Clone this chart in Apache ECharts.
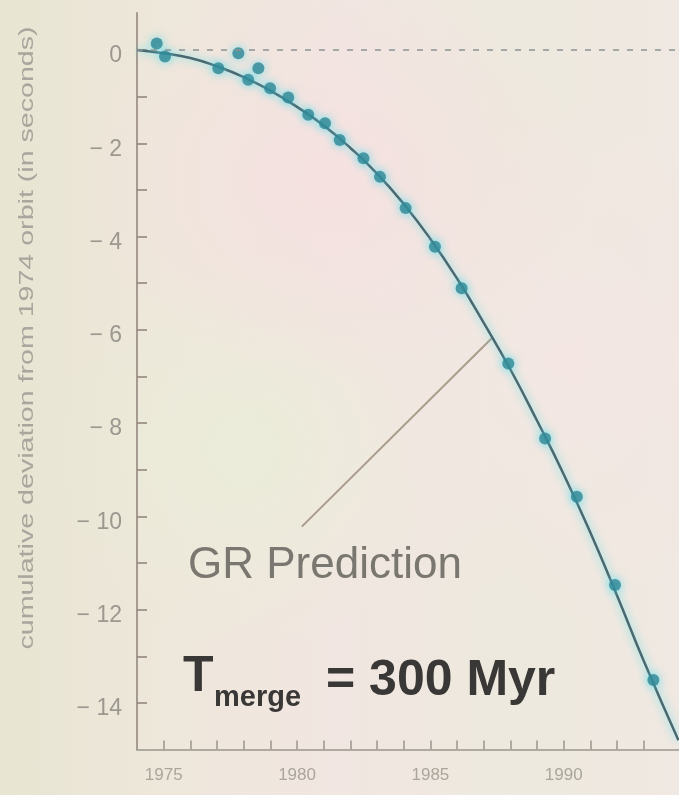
<!DOCTYPE html>
<html>
<head>
<meta charset="utf-8">
<script src="https://cdn.jsdelivr.net/npm/echarts@6/dist/echarts.min.js"></script>
<style>
html,body{margin:0;padding:0;}
body{width:679px;height:795px;overflow:hidden;
background:
 radial-gradient(ellipse 260px 200px at 330px 180px, rgba(246,224,224,0.8), rgba(246,224,224,0) 100%),
 radial-gradient(ellipse 220px 260px at 560px 360px, rgba(245,230,228,0.8), rgba(245,230,228,0) 100%),
 radial-gradient(ellipse 200px 200px at 250px 450px, rgba(234,238,216,0.8), rgba(234,238,216,0) 100%),
 linear-gradient(90deg,#e8e5d2 0%,#eee7db 25%,#f1e6e1 50%,#ede9de 75%,#f0e8e2 100%);}
#chart{width:679px;height:795px;}
</style>
</head>
<body>
<div id="chart"></div>
<script>
// ---- data ----
const obsYears = [1974.74,1975.05,1977.05,1977.80,1978.17,1978.55,1978.99,1979.67,1980.42,1981.05,1981.60,1982.49,1983.11,1984.07,1985.17,1986.17,1987.92,1989.30,1990.49,1991.92,1993.36];
const obsDelay = [0.14,-0.14,-0.39,-0.07,-0.64,-0.39,-0.82,-1.02,-1.39,-1.57,-1.93,-2.32,-2.72,-3.39,-4.22,-5.11,-6.72,-8.33,-9.58,-11.47,-13.51];
const curveYears = [1974,1975,1976,1977,1978,1979,1980,1981,1982,1983,1984,1985,1986,1987,1988,1989,1990,1991,1992,1993,1994.3];
const curveDelay = [0,-0.07,-0.17,-0.35,-0.58,-0.87,-1.22,-1.62,-2.1,-2.65,-3.3,-4.05,-4.9,-5.85,-6.85,-7.95,-9.1,-10.35,-11.7,-13.1,-14.8];
const pointerYears = [1980.18,1987.30];
const pointerDelay = [-10.22,-6.18];
const xTickYears = [1975,1976,1977,1978,1979,1980,1981,1982,1983,1984,1985,1986,1987,1988,1989,1990,1991,1992,1993];
const xLabelYears = [1975,1980,1985,1990];
const yTickValues = [0,-1,-2,-3,-4,-5,-6,-7,-8,-9,-10,-11,-12,-13,-14];
const yLabelValues = [0,-2,-4,-6,-8,-10,-12,-14];
const yTitle = 'cumulative deviation from 1974 orbit (in seconds)';
const grLabel = 'GR Prediction';

const zip = (a,b)=>a.map((v,i)=>[v,b[i]]);
const chart = echarts.init(document.getElementById('chart'), null, {renderer:'canvas'});
const FONT = '"Liberation Sans", Arial, sans-serif';
chart.setOption({
  backgroundColor: 'transparent',
  animation: false,
  grid: {left:137, right:0, top:12.7, bottom:45.4, containLabel:false},
  xAxis: {
    type:'value', min:1974, max:1994.32,
    axisLine:{show:true, onZero:false, lineStyle:{color:'#9a968c', width:1.5}},
    axisTick:{show:true, inside:true, length:9, customValues:xTickYears, lineStyle:{color:'#9a968c', width:1.5}},
    axisLabel:{show:true, customValues:xLabelYears, margin:17, color:'#aaa69c', fontSize:17, fontFamily:FONT,
      formatter:v=>String(v)},
    splitLine:{show:false}
  },
  yAxis: {
    type:'value', min:-15, max:0.8,
    axisLine:{show:true, onZero:false, lineStyle:{color:'#8e8079', width:1.5}},
    axisTick:{show:true, inside:true, length:10, customValues:yTickValues, lineStyle:{color:'#8e8079', width:1.5}},
    axisLabel:{show:true, customValues:yLabelValues, margin:15, color:'#9c978f', fontSize:23, fontFamily:FONT,
      verticalAlign:'top', lineHeight:12,
      formatter:v=>String(v).replace('-','\u2212 ')},
    splitLine:{show:false}
  },
  series: [
    {
      type:'line', data:zip(pointerYears,pointerDelay), symbol:'none', silent:true,
      lineStyle:{color:'#a99c8c', width:2}, z:1
    },
    {
      type:'line', data:zip(curveYears,curveDelay), smooth:true, symbol:'none',
      lineStyle:{color:'#4a6870', width:2.5, shadowColor:'rgba(80,225,235,0.9)', shadowBlur:8},
      markLine:{symbol:'none', silent:true, label:{show:false},
        lineStyle:{color:'#8a9294', type:[6,8], width:1.5},
        data:[{yAxis:0}]},
      z:2
    },
    {
      type:'scatter', data:zip(obsYears,obsDelay), symbol:'circle', symbolSize:12,
      itemStyle:{color:'#2e8694', shadowColor:'rgba(80,220,240,1)', shadowBlur:10},
      z:3
    }
  ],
  graphic: [
    {type:'text', x:27, y:338, rotation:Math.PI/2, scaleX:1.43,
      style:{text:yTitle, font:'20px '+FONT, fill:'#aaa59d', textAlign:'center', textVerticalAlign:'middle'}},
    {type:'text', left:188, top:544,
      style:{text:grLabel, font:'44px '+FONT, fill:'#7a7770'}},
    {type:'text', x:183, y:677,
      style:{text:'T', font:'bold 50px '+FONT, fill:'#3a3836', textVerticalAlign:'middle'}},
    {type:'text', x:214, y:698,
      style:{text:'merge', font:'bold 29px '+FONT, fill:'#3a3836', textVerticalAlign:'middle'}},
    {type:'text', x:326, y:681,
      style:{text:'= 300 Myr', font:'bold 50px '+FONT, fill:'#3a3836', textVerticalAlign:'middle'}}
  ]
});
</script>
</body>
</html>
